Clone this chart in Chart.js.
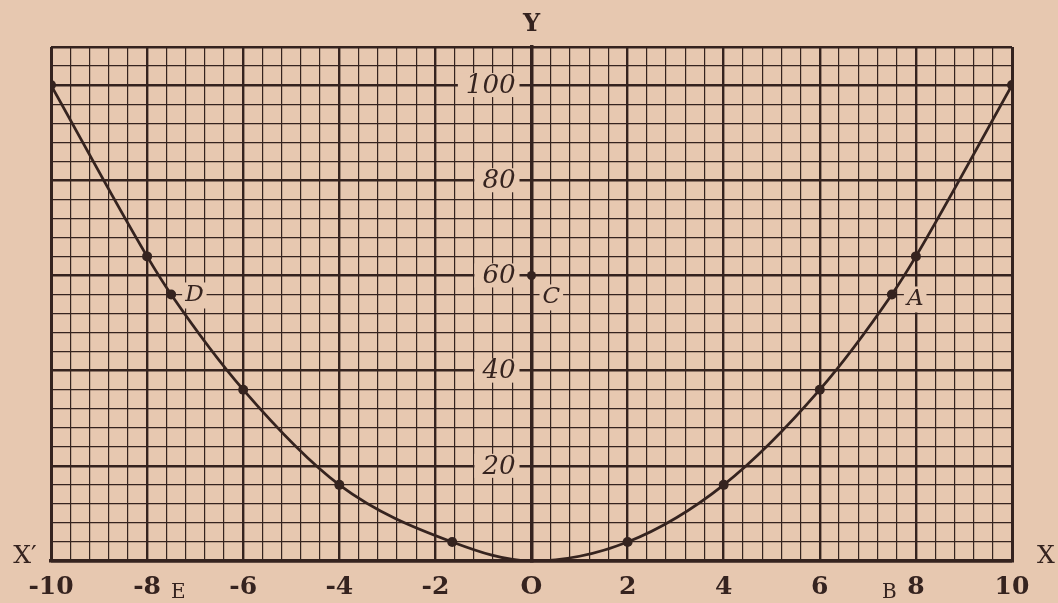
<!DOCTYPE html>
<html>
<head>
<meta charset="utf-8">
<script src="https://cdn.jsdelivr.net/npm/chart.js@4/dist/chart.umd.min.js"></script>
<style>
  html, body { margin: 0; padding: 0; background: #e7c8b0; }
  #wrap { width: 1058px; height: 603px; }
</style>
</head>
<body>
<div id="wrap"><canvas id="graph"></canvas></div>
<script>
// points of the curve
const curveX = [-10, -8, -7.5, -6, -4, -1.65, 0, 2, 4, 6, 7.5, 8, 10];
const curveY = [100, 64, 56, 36, 16, 4, 0, 4, 16, 36, 56, 64, 100];

// numbered values on the Y axis
const yLabels = [20, 40, 60, 80, 100];

// lettered points
const pointNames = ['D', 'C', 'A'];
const pointNameX = [-7.5, 0, 7.5];
const pointNameY = [56, 60, 56];

// marked point on the Y axis
const markX = [0];
const markY = [60];

// letters under the X axis
const footNames = ['E', 'B'];
const footX = [-7.35, 7.45];

const xTickStep = 0.4;
const yTickStep = 4;

const paper = '#e7c8b0';
const ink = '#35231f';

const isMajorX = v => Math.abs(v / 2 - Math.round(v / 2)) < 1e-6;
const isMajorY = v => Math.abs(v / 20 - Math.round(v / 20)) < 1e-6;

const textPlugin = {
  id: 'textPlugin',
  beforeDatasetsDraw(chart) {
    const { ctx, scales: { x, y } } = chart;
    ctx.save();
    ctx.textBaseline = 'middle';

    // y axis numbers, with the paper showing through behind them
    ctx.font = 'italic 26px "DejaVu Serif"';
    ctx.textAlign = 'right';
    const right = x.getPixelForValue(0) - 16;
    yLabels.forEach(v => {
      const py = y.getPixelForValue(v);
      const w = ctx.measureText(String(v)).width;
      ctx.fillStyle = paper;
      ctx.fillRect(right - w - 8, py - 12, w + 12, 24);
      ctx.fillStyle = ink;
      ctx.fillText(String(v), right, py + 1);
    });

    // lettered points
    const offsets = { A: [15, 5], C: [11, 22], D: [14, 1] };
    ctx.font = 'italic 23px "DejaVu Serif"';
    ctx.textAlign = 'left';
    pointNames.forEach((name, i) => {
      const off = offsets[name] || [12, 0];
      const px = x.getPixelForValue(pointNameX[i]) + off[0];
      const py = y.getPixelForValue(pointNameY[i]) + off[1];
      const w = ctx.measureText(name).width;
      ctx.fillStyle = paper;
      ctx.fillRect(px - 3, py - 13, w + 6, 26);
      ctx.fillStyle = ink;
      ctx.fillText(name, px, py);
    });
    ctx.restore();
  },
  afterDraw(chart) {
    const { ctx, chartArea, scales: { x } } = chart;
    ctx.save();
    ctx.fillStyle = ink;
    ctx.textBaseline = 'middle';
    ctx.textAlign = 'center';
    ctx.font = 'bold 24px "DejaVu Serif"';
    ctx.fillText('Y', x.getPixelForValue(0), chartArea.top - 22);
    ctx.font = '25px "DejaVu Serif"';
    ctx.fillText('X\u2032', 25, chartArea.bottom - 5);
    ctx.fillText('X', 1046, chartArea.bottom - 5);
    ctx.font = '20px "DejaVu Serif"';
    footNames.forEach((name, i) => {
      ctx.fillText(name, x.getPixelForValue(footX[i]), chartArea.bottom + 32);
    });
    ctx.restore();
  }
};

new Chart(document.getElementById('graph'), {
  type: 'scatter',
  data: {
    datasets: [
      {
        data: curveX.map((v, i) => ({ x: v, y: curveY[i] })),
        showLine: true,
        cubicInterpolationMode: 'monotone',
        borderColor: ink,
        borderWidth: 2.8,
        backgroundColor: ink,
        pointRadius: curveY.map(v => (v === 0 ? 0 : 5)),
        pointBorderWidth: 0
      },
      {
        data: markX.map((v, i) => ({ x: v, y: markY[i] })),
        backgroundColor: ink,
        pointRadius: 4.5,
        pointBorderWidth: 0
      }
    ]
  },
  options: {
    responsive: true,
    maintainAspectRatio: false,
    animation: false,
    layout: { padding: { left: 51, right: 46, top: 47, bottom: -10 } },
    plugins: { legend: { display: false }, tooltip: { enabled: false } },
    scales: {
      x: {
        type: 'linear',
        min: -10,
        max: 10,
        border: { display: true, color: ink, width: 3.5 },
        grid: {
          drawTicks: false,
          color: ink,
          lineWidth: c => {
            const v = c.tick ? c.tick.value : 0;
            if (Math.abs(Math.abs(v) - 10) < 1e-6) return 3;
            return isMajorX(v) ? 2.4 : 1.2;
          }
        },
        ticks: {
          stepSize: xTickStep,
          autoSkip: false,
          maxRotation: 0,
          padding: 11,
          color: ink,
          font: { family: 'DejaVu Serif', size: 25, weight: 'bold' },
          callback: v => {
            if (!isMajorX(v)) return '';
            const n = Math.round(v);
            return n === 0 ? 'O' : String(n);
          }
        }
      },
      y: {
        type: 'linear',
        position: { x: 0 },
        min: 0,
        max: 108,
        border: { display: true, color: ink, width: 3.5 },
        grid: {
          drawTicks: false,
          color: ink,
          lineWidth: c => {
            const v = c.tick ? c.tick.value : 0;
            if (v >= 108) return 2.6;
            return isMajorY(v) ? 2.4 : 1.2;
          }
        },
        ticks: { stepSize: yTickStep, autoSkip: false, display: false }
      }
    }
  },
  plugins: [textPlugin]
});
</script>
</body>
</html>
